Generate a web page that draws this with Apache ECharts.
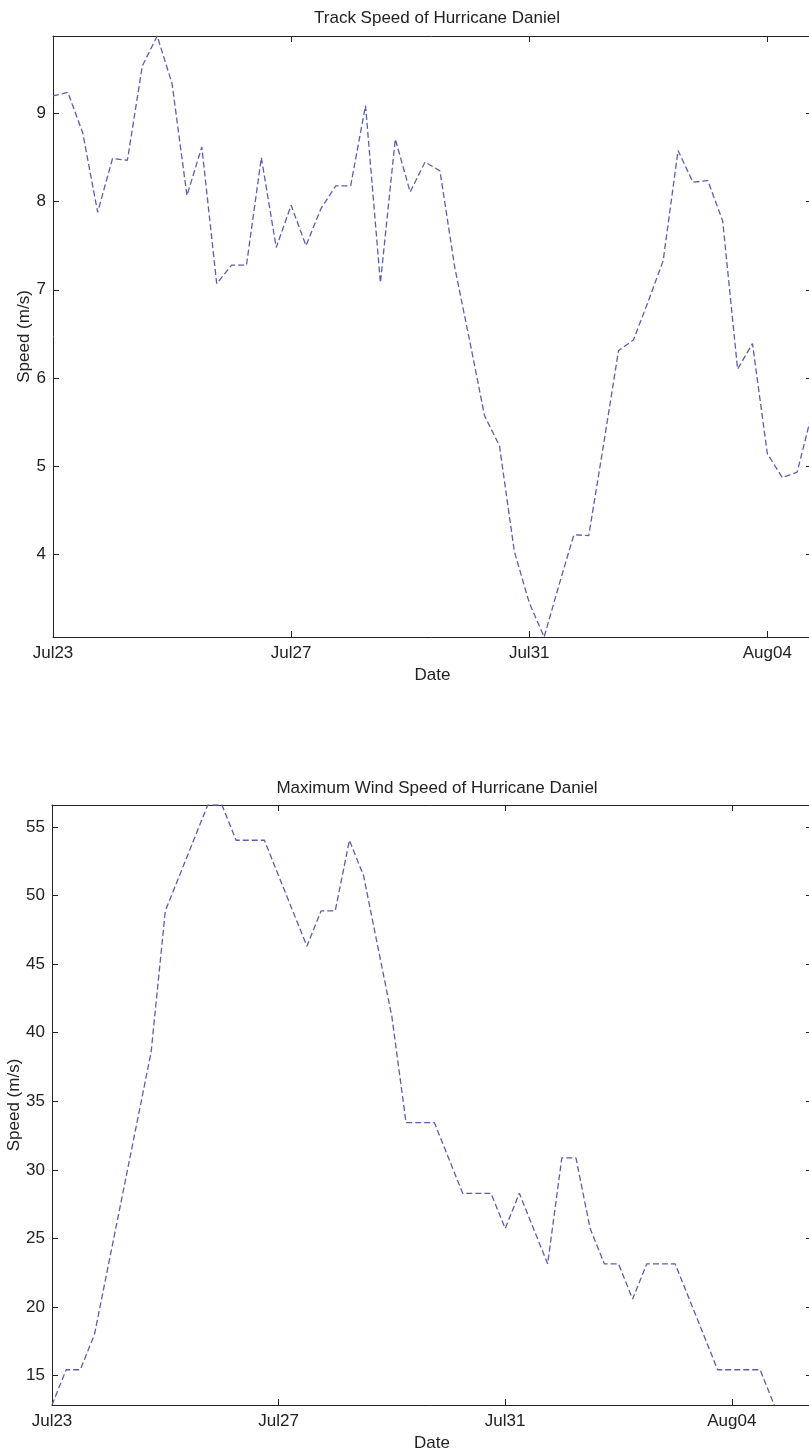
<!DOCTYPE html>
<html>
<head>
<meta charset="utf-8">
<script src="https://cdn.jsdelivr.net/npm/echarts@6/dist/echarts.min.js"></script>
<style>
html,body{margin:0;padding:0;background:#ffffff;}
#chart{width:809px;height:1453px;}
</style>
</head>
<body>
<div id="chart"></div>
<script>
// Hours after Jul23 00Z (6-hourly fixes)
const hours = [0,6,12,18,24,30,36,42,48,54,60,66,72,78,84,90,96,102,108,114,120,126,132,138,144,150,156,162,168,174,180,186,192,198,204,210,216,222,228,234,240,246,252,258,264,270,276,282,288,294,300,306];

// Track speed (m/s)
const trackSpeed = [9.20,9.24,8.78,7.88,8.49,8.47,9.54,9.88,9.34,8.07,
  8.62,7.07,7.28,7.28,8.50,7.48,7.96,7.50,7.92,8.18,
  8.18,9.09,7.08,8.71,8.11,8.45,8.35,7.25,6.42,5.57,
  5.23,4.03,3.45,3.06,3.65,4.22,4.21,5.25,6.31,6.43,
  6.87,7.33,8.58,8.22,8.24,7.78,6.10,6.39,5.14,4.87,
  4.93,5.60];

// Maximum wind speed (m/s)
const windSpeed = [12.86,15.43,15.43,18.01,23.15,28.29,33.44,38.58,48.87,51.44,
  54.02,56.59,56.59,54.02,54.02,54.02,51.44,48.87,46.30,48.87,
  48.87,54.02,51.44,46.30,41.16,33.44,33.44,33.44,30.87,28.29,
  28.29,28.29,25.72,28.29,25.72,23.15,30.87,30.87,25.72,23.15,
  23.15,20.58,23.15,23.15,23.15,20.58,18.01,15.43,15.43,15.43,
  15.43,12.86];

const dateTickLabels = ['Jul23','Jul27','Jul31','Aug04'];
const trackTicks = [4,5,6,7,8,9];
const windTicks = [15,20,25,30,35,40,45,50,55];

const titles = ['Track Speed of Hurricane Daniel','Maximum Wind Speed of Hurricane Daniel'];
const yName = 'Speed (m/s)';
const xName = 'Date';

const FONT = '"Liberation Sans", Arial, Helvetica, sans-serif';
const TXT = '#222';
const AX = '#222';
const LINE = '#5a5fa8';

const trackMin = Math.min(...trackSpeed), trackMax = Math.max(...trackSpeed);
const windMin = Math.min(...windSpeed), windMax = Math.max(...windSpeed);

function xAxes(grid, max) {
  const common = {
    type: 'value', gridIndex: grid, min: 0, max: max, interval: 96,
    axisLine: {show: true, onZero: false, lineStyle: {color: AX, width: 1}},
    axisTick: {show: true, inside: true, length: 6, lineStyle: {color: AX}},
    splitLine: {show: false}
  };
  return [
    Object.assign({}, common, {
      position: 'bottom',
      name: xName, nameLocation: 'middle', nameGap: 30, nameMoveOverlap: false,
      nameTextStyle: {fontFamily: FONT, fontSize: 17, color: TXT},
      axisLabel: {show: true, margin: 8, fontFamily: FONT, fontSize: 17, color: TXT,
        formatter: v => (v % 96 === 0 && dateTickLabels[v / 96] !== undefined) ? dateTickLabels[v / 96] : ''}
    }),
    Object.assign({}, common, {position: 'top', axisLabel: {show: false}})
  ];
}

function yAxes(grid, min, max, ticks, gap) {
  const common = {
    type: 'value', gridIndex: grid, min: min, max: max,
    axisLine: {show: true, onZero: false, lineStyle: {color: AX, width: 1}},
    axisTick: {show: true, inside: true, length: 6, customValues: ticks, lineStyle: {color: AX}},
    splitLine: {show: false}
  };
  return [
    Object.assign({}, common, {
      position: 'left',
      name: yName, nameLocation: 'middle', nameGap: gap, nameRotate: 90, nameMoveOverlap: false,
      nameTextStyle: {fontFamily: FONT, fontSize: 17, color: TXT},
      axisLabel: {show: true, margin: 7, customValues: ticks, fontFamily: FONT, fontSize: 17, color: TXT}
    }),
    Object.assign({}, common, {position: 'right', axisLabel: {show: false}})
  ];
}

const chart = echarts.init(document.getElementById('chart'), null, {renderer: 'canvas'});
chart.setOption({
  animation: false,
  backgroundColor: '#ffffff',
  title: [
    {text: titles[0], left: 432, top: 5, textAlign: 'center',
     textStyle: {fontFamily: FONT, fontSize: 17, fontWeight: 'normal', color: TXT}},
    {text: titles[1], left: 432, top: 775, textAlign: 'center',
     textStyle: {fontFamily: FONT, fontSize: 17, fontWeight: 'normal', color: TXT}}
  ],
  grid: [
    {left: 53, top: 36, width: 759, height: 601, containLabel: false, outerBoundsMode: 'none'},
    {left: 52, top: 805, width: 760, height: 600, containLabel: false, outerBoundsMode: 'none'}
  ],
  xAxis: [].concat(xAxes(0, 306), xAxes(1, 322)),
  yAxis: [].concat(yAxes(0, trackMin, trackMax, trackTicks, 20), yAxes(1, windMin, windMax, windTicks, 29)),
  series: [
    {type: 'line', xAxisIndex: 0, yAxisIndex: 0, showSymbol: false, clip: true,
     data: hours.map((h, i) => [h, trackSpeed[i]]),
     lineStyle: {color: LINE, width: 1.3, type: [6, 3]}},
    {type: 'line', xAxisIndex: 2, yAxisIndex: 2, showSymbol: false, clip: true,
     data: hours.map((h, i) => [h, windSpeed[i]]),
     lineStyle: {color: LINE, width: 1.3, type: [6, 3]}}
  ]
});
</script>
</body>
</html>
